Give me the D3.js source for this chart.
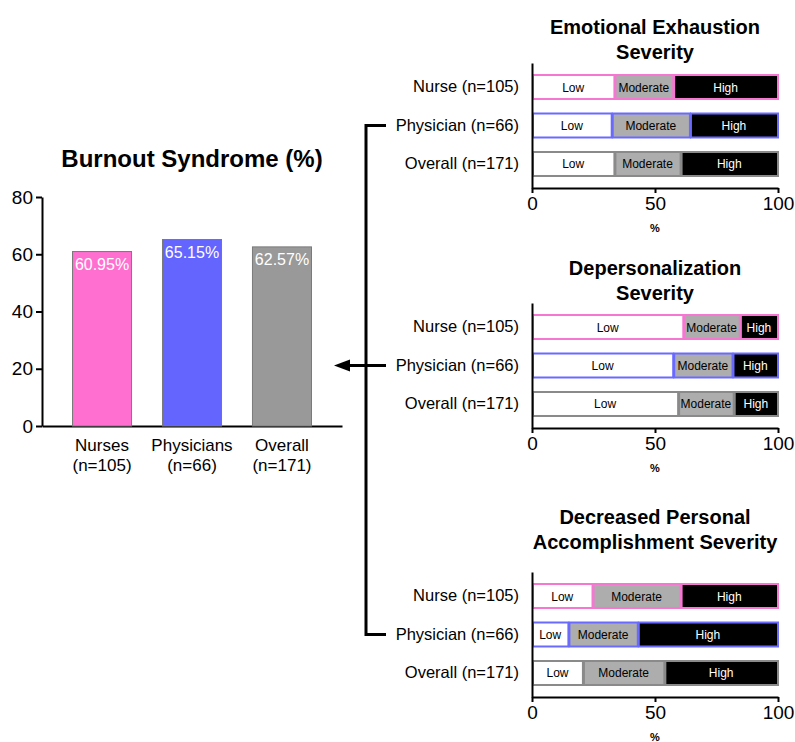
<!DOCTYPE html>
<html>
<head>
<meta charset="utf-8">
<script src="https://cdn.jsdelivr.net/npm/d3@7"></script>
<style>
  html, body { margin: 0; padding: 0; background: #fff; }
  svg { display: block; font-family: "Liberation Sans", Arial, Helvetica, sans-serif; }
</style>
</head>
<body>
<svg id="chart" width="795" height="742"></svg>
<script>
// ---------- DATA ----------
const burnoutCategories = ["Nurses", "Physicians", "Overall"];
const burnoutN = ["(n=105)", "(n=66)", "(n=171)"];
const burnoutValues = [60.95, 65.15, 62.57];
const burnoutTicks = [0, 20, 40, 60, 80];

const groups = ["Nurse (n=105)", "Physician (n=66)", "Overall (n=171)"];
const levels = ["Low", "Moderate", "High"];
const severityTicks = [0, 50, 100];

const eeLow = [33.5, 32.4, 33.5];
const eeModerate = [23.9, 31.8, 26.9];
const eeHigh = [42.6, 35.8, 39.6];

const dpLow = [61.5, 57.4, 59.4];
const dpModerate = [23.0, 24.1, 22.6];
const dpHigh = [15.5, 18.5, 18.0];

const dpaLow = [24.6, 14.8, 20.7];
const dpaModerate = [35.8, 28.2, 33.1];
const dpaHigh = [39.6, 57.0, 46.2];

const panelTitles = [
  ["Emotional Exhaustion", "Severity"],
  ["Depersonalization", "Severity"],
  ["Decreased Personal", "Accomplishment Severity"]
];

// ---------- STYLE ----------
const groupColors = ["#ff6fd0", "#6464ff", "#999999"];
const outlineColors = ["#f577d2", "#6a6aff", "#8a8a8a"];
const levelFills = { Low: "#ffffff", Moderate: "#adadad", High: "#000000" };
const levelText = { Low: "#000", Moderate: "#000", High: "#fff" };

const svg = d3.select("#chart");

// ---------- LEFT: Burnout bar chart ----------
const left = { x0: 42, x1: 342, y0: 426, y1: 197 };
const y = d3.scaleLinear().domain([0, 80]).range([left.y0, left.y1]);
const xb = d3.scaleBand().domain(burnoutCategories).range([left.x0, left.x1])
  .paddingInner(0.344).paddingOuter(0.339);

svg.append("text")
  .attr("x", 192).attr("y", 167)
  .attr("text-anchor", "middle")
  .attr("font-size", 24).attr("font-weight", "bold")
  .text("Burnout Syndrome (%)");

const ly = svg.append("g").attr("transform", `translate(${left.x0},0)`)
  .call(d3.axisLeft(y).tickValues(burnoutTicks).tickSize(6).tickSizeOuter(0).tickPadding(3));
ly.selectAll("path, line").attr("stroke", "#000").attr("stroke-width", 2);
ly.selectAll("text").attr("font-size", 19).attr("fill", "#000")
  .attr("font-family", "\"Liberation Sans\", Arial, sans-serif");

const lx = svg.append("g").attr("transform", `translate(0,${left.y0})`)
  .call(d3.axisBottom(xb).tickSize(0).tickSizeOuter(0).tickFormat(""));
lx.select("path").attr("stroke", "#000").attr("stroke-width", 2);

svg.append("g").selectAll("rect").data(burnoutValues).join("rect")
  .attr("x", (d, i) => xb(burnoutCategories[i]))
  .attr("y", d => y(d))
  .attr("width", xb.bandwidth())
  .attr("height", d => y(0) - y(d))
  .attr("fill", (d, i) => groupColors[i])
  .attr("stroke", "#7a7a7a").attr("stroke-width", 1);

svg.append("g").selectAll("text").data(burnoutValues).join("text")
  .attr("x", (d, i) => xb(burnoutCategories[i]) + xb.bandwidth() / 2)
  .attr("y", d => y(d) + 18)
  .attr("text-anchor", "middle")
  .attr("font-size", 16).attr("fill", "#fff")
  .text(d => d.toFixed(2) + "%");

const catLabels = svg.append("g").selectAll("text").data(burnoutCategories).join("text")
  .attr("text-anchor", "middle")
  .attr("font-size", 17).attr("fill", "#000");
catLabels.append("tspan")
  .attr("x", d => xb(d) + xb.bandwidth() / 2).attr("y", 451)
  .text(d => d);
catLabels.append("tspan")
  .attr("x", d => xb(d) + xb.bandwidth() / 2).attr("y", 471)
  .text((d, i) => burnoutN[i]);

// ---------- RIGHT: Severity panels ----------
const panels = [
  { axisY: 188, titleY: 34, low: eeLow, moderate: eeModerate, high: eeHigh, title: panelTitles[0] },
  { axisY: 428, titleY: 275, low: dpLow, moderate: dpModerate, high: dpHigh, title: panelTitles[1] },
  { axisY: 697, titleY: 524, low: dpaLow, moderate: dpaModerate, high: dpaHigh, title: panelTitles[2] }
];

const xs = d3.scaleLinear().domain([0, 100]).range([532, 778]);
const physicianCenters = [];

panels.forEach((p, pi) => {
  const g = svg.append("g");
  const yb = d3.scaleBand().domain(groups).range([p.axisY - 125, p.axisY])
    .paddingInner(0.377).paddingOuter(0.312);

  // title
  g.append("text")
    .attr("x", 655).attr("y", p.titleY)
    .attr("text-anchor", "middle")
    .attr("font-size", 20).attr("font-weight", "bold")
    .selectAll("tspan").data(p.title).join("tspan")
    .attr("x", 655).attr("dy", (d, i) => i === 0 ? 0 : 25)
    .text(d => d);

  // stacked bars
  const rows = groups.map((gname, i) => ({ group: gname, Low: p.low[i], Moderate: p.moderate[i], High: p.high[i] }));
  const stacked = d3.stack().keys(levels)(rows);
  stacked.forEach(layer => {
    const key = layer.key;
    layer.forEach((seg, i) => {
      const x0 = xs(seg[0]), x1 = xs(seg[1]);
      const yy = yb(groups[i]);
      g.append("rect")
        .attr("x", x0 + 1).attr("y", yy)
        .attr("width", Math.max(0, x1 - x0 - 1)).attr("height", yb.bandwidth())
        .attr("fill", levelFills[key])
        .attr("stroke", outlineColors[i]).attr("stroke-width", 2);
      g.append("text")
        .attr("x", (x0 + x1) / 2).attr("y", yy + yb.bandwidth() / 2 + 4.5)
        .attr("text-anchor", "middle")
        .attr("font-size", 12).attr("fill", levelText[key])
        .text(key);
    });
  });

  // y axis with group labels
  const ay = g.append("g").attr("transform", "translate(532,0)")
    .call(d3.axisLeft(yb).tickSize(0).tickSizeOuter(0).tickPadding(13));
  ay.select("path").attr("stroke", "#000").attr("stroke-width", 2);
  ay.selectAll("text").attr("font-size", 16.5).attr("fill", "#000")
    .attr("font-family", "\"Liberation Sans\", Arial, sans-serif");

  // x axis
  const ax = g.append("g").attr("transform", `translate(0,${p.axisY})`)
    .call(d3.axisBottom(xs).tickValues(severityTicks).tickSize(5).tickSizeOuter(0).tickPadding(4));
  ax.selectAll("path, line").attr("stroke", "#000").attr("stroke-width", 2);
  ax.selectAll("text").attr("font-size", 19).attr("fill", "#000")
    .attr("font-family", "\"Liberation Sans\", Arial, sans-serif");

  g.append("text")
    .attr("x", xs(50)).attr("y", p.axisY + 44)
    .attr("text-anchor", "middle")
    .attr("font-size", 11).attr("font-weight", "bold")
    .text("%");

  physicianCenters.push(yb(groups[1]) + yb.bandwidth() / 2);
});

// ---------- Bracket + arrow ----------
const bx = 366, bEnd = 386;
const bracket = svg.append("g").attr("stroke", "#000").attr("stroke-width", 3).attr("fill", "none");
bracket.append("path")
  .attr("d", `M${bEnd},${physicianCenters[0]} H${bx} V${physicianCenters[2]} H${bEnd}`);
bracket.append("line")
  .attr("x1", bEnd).attr("x2", 348)
  .attr("y1", physicianCenters[1]).attr("y2", physicianCenters[1]);
svg.append("path")
  .attr("d", `M334,${physicianCenters[1]} L350,${physicianCenters[1] - 6} L350,${physicianCenters[1] + 6} Z`)
  .attr("fill", "#000");
</script>
</body>
</html>
